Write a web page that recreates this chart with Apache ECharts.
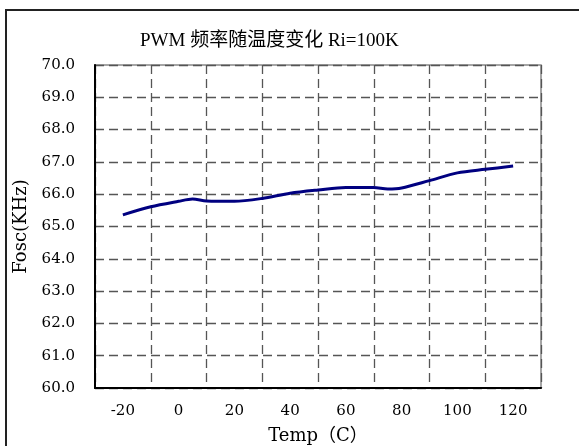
<!DOCTYPE html>
<html>
<head>
<meta charset="utf-8">
<script src="https://cdn.jsdelivr.net/npm/echarts@6/dist/echarts.min.js"></script>
<style>
html,body{margin:0;padding:0;background:#fff;}
#c{width:579px;height:446px;}
</style>
</head>
<body>
<div id="c"></div>
<script>
// Data
const xCategories = ['-20', '0', '20', '40', '60', '80', '100', '120'];
const tempValues = [-20, -10, 0, 5, 10, 20, 30, 40, 50, 60, 70, 75, 80, 90, 100, 110, 120];
const foscValues = [65.36, 65.61, 65.78, 65.85, 65.79, 65.78, 65.87, 66.03, 66.13, 66.21, 66.21, 66.16, 66.19, 66.42, 66.66, 66.77, 66.87];
const yMin = 60, yMax = 70, yStep = 1;
const titleText = 'PWM 频率随温度变化 Ri=100K';
const xName = 'Temp（C）';
const yName = 'Fosc(KHz)';

const serif = "'DejaVu Serif', 'Noto Sans CJK SC', serif";
const titleFont = "'Liberation Serif', 'Noto Sans CJK SC', serif";
const gridDash = [9, 5];

const chart = echarts.init(document.getElementById('c'), null, {renderer: 'canvas'});
const option = {
  animation: false,
  backgroundColor: '#fff',
  title: {
    text: titleText,
    left: 135,
    top: 27,
    textStyle: {fontFamily: titleFont, fontSize: 19, fontWeight: 'normal', color: '#000'}
  },
  graphic: [{
    type: 'rect',
    shape: {x: 6, y: 10, width: 620, height: 500},
    style: {fill: 'none', stroke: '#222', lineWidth: 2},
    silent: true
  }],
  grid: {
    left: 95, right: 38, top: 65, bottom: 58,
    containLabel: false,
    outerBoundsMode: 'none',
    show: true, borderColor: '#888', borderWidth: 1.5, backgroundColor: 'transparent'
  },
  xAxis: [{
    type: 'category',
    data: xCategories,
    boundaryGap: true,
    name: xName,
    nameLocation: 'middle',
    nameGap: 39,
    nameTextStyle: {fontFamily: serif, fontSize: 18, color: '#000'},
    axisLine: {show: true, onZero: false, lineStyle: {color: '#000', width: 2}},
    axisTick: {show: false},
    axisLabel: {margin: 16, fontFamily: serif, fontSize: 15, color: '#000'},
    splitLine: {show: true, interval: 0, lineStyle: {color: '#555', width: 1.3, type: gridDash}}
  }, {
    type: 'value',
    min: -30, max: 130,
    show: false,
    splitLine: {show: false}
  }],
  yAxis: {
    type: 'value',
    min: yMin, max: yMax, interval: yStep,
    name: yName,
    nameLocation: 'middle',
    nameGap: 61,
    nameTextStyle: {fontFamily: serif, fontSize: 18, color: '#000'},
    axisLine: {show: true, onZero: false, lineStyle: {color: '#000', width: 2}},
    axisTick: {show: false},
    axisLabel: {margin: 20, fontFamily: serif, fontSize: 15, color: '#000', formatter: v => v.toFixed(1)},
    splitLine: {show: true, lineStyle: {color: '#555', width: 1.3, type: gridDash}}
  },
  series: [{
    type: 'line',
    xAxisIndex: 1,
    data: tempValues.map((t, i) => [t, foscValues[i]]),
    smooth: 0.3,
    showSymbol: false,
    lineStyle: {color: '#000080', width: 3}
  }]
};
chart.setOption(option);
</script>
</body>
</html>
